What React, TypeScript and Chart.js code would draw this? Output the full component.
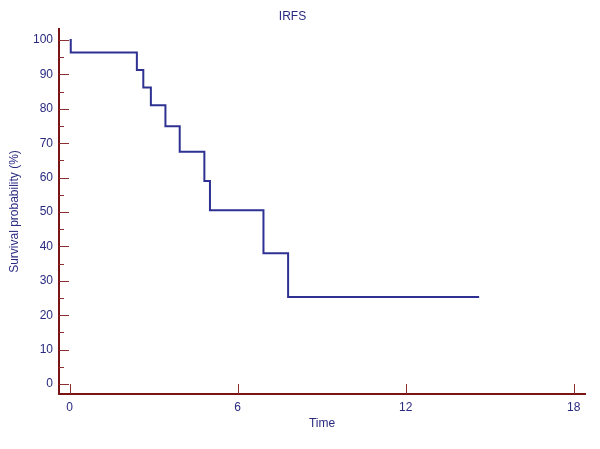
import React, { useEffect, useRef } from "react";
import { Chart, registerables } from "chart.js";

Chart.register(...registerables);

const stepTimes = [0, 0.04, 2.4, 2.63, 2.9, 3.42, 3.93, 4.81, 5.01, 6.92, 7.8, 14.62];
const stepSurvival = [100, 96.4, 91.3, 86.2, 81.0, 74.9, 67.5, 59.0, 50.5, 38.0, 25.3, 25.3];
const yTickValues = [0, 10, 20, 30, 40, 50, 60, 70, 80, 90, 100];
const yMinorTickValues = [5, 15, 25, 35, 45, 55, 65, 75, 85, 95];
const xTickValues = [0, 6, 12, 18];

const TEXT = "#2a2a80";
const AXIS = "#7a1414";
const TICK = "#8a3030";
const LINE = "#2e3192";

const insideTicks = {
  id: "insideTicks",
  afterDraw(chart: any) {
    const ctx = chart.ctx;
    const xs = chart.scales.x;
    const ys = chart.scales.y;
    const left = chart.chartArea.left;
    const bottom = chart.chartArea.bottom;
    ctx.save();
    ctx.strokeStyle = TICK;
    ctx.lineWidth = 1;
    ctx.beginPath();
    yTickValues.forEach((v) => {
      const y = Math.round(ys.getPixelForValue(v)) + 0.5;
      ctx.moveTo(left, y);
      ctx.lineTo(left + 10, y);
    });
    yMinorTickValues.forEach((v) => {
      const y = Math.round(ys.getPixelForValue(v)) + 0.5;
      ctx.moveTo(left, y);
      ctx.lineTo(left + 5, y);
    });
    xTickValues.forEach((v) => {
      const x = Math.round(xs.getPixelForValue(v)) + 0.5;
      ctx.moveTo(x, bottom);
      ctx.lineTo(x, bottom - 10);
    });
    ctx.stroke();
    ctx.restore();
  },
};

export default function App() {
  const ref = useRef<HTMLCanvasElement>(null);
  useEffect(() => {
    if (!ref.current) return;
    const data = stepTimes.map((t, i) => ({ x: t, y: stepSurvival[i] }));
    const chart = new Chart(ref.current, {
      type: "line",
      data: {
        datasets: [
          {
            data,
            stepped: "before" as any,
            borderColor: LINE,
            borderWidth: 2,
            pointRadius: 0,
            fill: false,
          },
        ],
      },
      options: {
        animation: false,
        responsive: false,
        maintainAspectRatio: false,
        layout: { padding: { top: 0, right: 15, bottom: 18, left: 0 } },
        plugins: {
          legend: { display: false },
          tooltip: { enabled: false },
          title: {
            display: true,
            text: "IRFS",
            color: TEXT,
            font: { family: "Arial, 'Liberation Sans'", size: 12, weight: "normal" },
            padding: { top: 9, bottom: 5.6 },
          },
        },
        scales: {
          x: {
            type: "linear",
            min: -0.38,
            max: 18.4,
            afterBuildTicks: (s: any) => {
              s.ticks = xTickValues.map((v) => ({ value: v }));
            },
            afterFit: (s: any) => {
              s.height = 37;
            },
            grid: { display: false, drawTicks: false },
            border: { display: true, color: AXIS, width: 2 },
            ticks: {
              color: TEXT,
              padding: 6,
              maxRotation: 0,
              font: { family: "Arial, 'Liberation Sans'", size: 12 },
            },
            title: {
              display: true,
              text: "Time",
              color: TEXT,
              font: { family: "Arial, 'Liberation Sans'", size: 12 },
              padding: { top: 3, bottom: 0 },
            },
          },
          y: {
            type: "linear",
            min: -2.9,
            max: 103.2,
            afterBuildTicks: (s: any) => {
              s.ticks = yTickValues.map((v) => ({ value: v }));
            },
            afterFit: (s: any) => {
              s.width = 59;
            },
            grid: { display: false, drawTicks: false },
            border: { display: true, color: AXIS, width: 2 },
            ticks: {
              color: TEXT,
              padding: 6,
              font: { family: "Arial, 'Liberation Sans'", size: 12 },
            },
            title: {
              display: true,
              text: "Survival probability (%)",
              color: TEXT,
              font: { family: "Arial, 'Liberation Sans'", size: 12 },
              padding: { top: 7, bottom: 0 },
            },
          },
        },
      },
      plugins: [insideTicks],
    });
    return () => chart.destroy();
  }, []);
  return (
    <div style={{ position: "fixed", left: 0, top: 0, width: 600, height: 449, background: "#fff" }}>
      <canvas ref={ref} width={600} height={449} style={{ width: 600, height: 449 }} />
    </div>
  );
}
